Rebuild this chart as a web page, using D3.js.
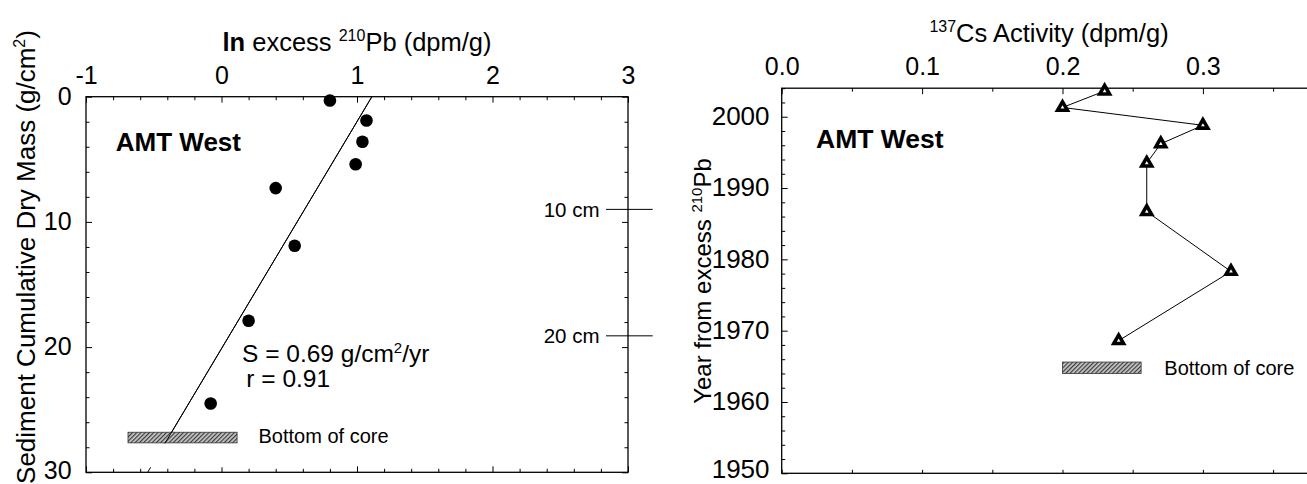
<!DOCTYPE html>
<html><head><meta charset="utf-8">
<script src="https://cdn.jsdelivr.net/npm/d3@7"></script>
<style>
body{margin:0;background:#fff}
svg{display:block}
</style>
</head><body>
<svg id="c" width="1307" height="484"></svg>
<script>
// ---------- Left panel data (ln excess 210Pb vs cumulative dry mass) ----------
const pbMass      = [0.3, 1.9, 3.6, 5.4, 7.3, 11.9, 17.9, 24.5];
const pbLnExcess  = [0.80, 1.07, 1.04, 0.99, 0.40, 0.54, 0.20, -0.08];
const fitMass     = [0, 30];
const fitLnExcess = [1.11, -0.545];
const pbTicks     = [-1, 0, 1, 2, 3];
const massTicks   = [0, 10, 20, 30];
const depthLabels = ["10 cm", "20 cm"];
const depthMass   = [9.0, 19.1];
const pbCoreX     = [-0.69, 0.115];
const pbCoreMass  = [26.8, 27.65];

// ---------- Right panel data (137Cs activity vs year) ----------
const csYear      = [2003.6, 2001.3, 1998.8, 1996.2, 1993.5, 1986.7, 1978.3, 1968.6];
const csActivity  = [0.23, 0.20, 0.30, 0.27, 0.26, 0.26, 0.32, 0.24];
const csTicks     = [0.0, 0.1, 0.2, 0.3];
const yearTicks   = [1950, 1960, 1970, 1980, 1990, 2000];
const csCoreX     = [0.2, 0.256];
const csCoreYear  = [1964.0, 1965.6];

const FONT = '"Liberation Sans", Arial, Helvetica, sans-serif';
const svg = d3.select("#c");

const defs = svg.append("defs");
const pat = defs.append("pattern").attr("id","hatch").attr("patternUnits","userSpaceOnUse")
  .attr("width",3).attr("height",3).attr("patternTransform","rotate(45)");
pat.append("rect").attr("width",3).attr("height",3).attr("fill","#c8c8c8");
pat.append("line").attr("x1",0.6).attr("y1",0).attr("x2",0.6).attr("y2",3).attr("stroke","#3a3a3a").attr("stroke-width",1.2);

// scales
const xL = d3.scaleLinear().domain([-1, 3]).range([86, 628]);
const yL = d3.scaleLinear().domain([0, 30]).range([96.7, 472.3]);
const xR = d3.scaleLinear().domain([0, 0.4]).range([781.7, 1343.3]);
const yR = d3.scaleLinear().domain([1950, 2004]).range([473.3, 88.2]);

function isMajor(v, step){ const q = v/step; return Math.abs(q - Math.round(q)) < 1e-6; }
function styleAxis(g, fs){
  g.attr("font-family", null).attr("font-size", null);
  g.select(".domain").remove();
  g.selectAll("line").attr("stroke","#000").attr("stroke-width",1);
  g.selectAll("text").attr("font-family",FONT).attr("font-size",fs).attr("fill","#000");
}
function addAxis(axis, tx, ty, fs){
  const g = svg.append("g").attr("transform",`translate(${tx},${ty})`).call(axis);
  styleAxis(g, fs || 25);
  return g;
}

// ================= LEFT PANEL =================
const [lx0, lx1] = xL.range(), [ly0, ly1] = yL.range();
const pbMinor = d3.range(-1, 3.0001, 0.2).filter(v => !isMajor(v, 1));
const massMinor = d3.range(0, 30.001, 2).filter(v => !isMajor(v, 10));

addAxis(d3.axisTop(xL).tickValues(pbTicks).tickSize(-6).tickPadding(12.4).tickFormat(d => String(d)), 0, ly0);
addAxis(d3.axisTop(xL).tickValues(pbMinor).tickSize(-3.5).tickFormat(""), 0, ly0);
addAxis(d3.axisBottom(xL).tickValues(pbTicks).tickSize(-6).tickFormat(""), 0, ly1);
addAxis(d3.axisBottom(xL).tickValues(pbMinor).tickSize(-3.5).tickFormat(""), 0, ly1);
const yLabAxis = addAxis(d3.axisLeft(yL).tickValues(massTicks).tickSize(-6).tickPadding(14.4).tickFormat(d => String(d)), lx0, 0);
yLabAxis.selectAll("text").attr("dy", d => d === 30 ? "0.26em" : "0.3em");
addAxis(d3.axisLeft(yL).tickValues(massMinor).tickSize(-3.5).tickFormat(""), lx0, 0);
addAxis(d3.axisRight(yL).tickValues(massTicks).tickSize(-6).tickFormat(""), lx1, 0);
addAxis(d3.axisRight(yL).tickValues(massMinor).tickSize(-3.5).tickFormat(""), lx1, 0);

svg.append("rect").attr("x",lx0).attr("y",ly0).attr("width",lx1-lx0).attr("height",ly1-ly0)
  .attr("fill","none").attr("stroke","#000").attr("stroke-width",1.3);

// regression line
const fitData = fitMass.map((m,i)=>({m, v: fitLnExcess[i]}));
const fitLine = d3.line().x(d=>xL(d.v)).y(d=>yL(d.m));
svg.append("path").datum(fitData).attr("d", fitLine)
  .attr("fill","none").attr("stroke","#000").attr("stroke-width",1);

// legend background (white) hiding the fit line below the bar
svg.append("rect").attr("x", xL(pbCoreX[0])-4).attr("y", yL(pbCoreMass[1])+0.6)
  .attr("width", xL(pbCoreX[1]) - xL(pbCoreX[0]) + 8).attr("height", yL(29.6) - yL(pbCoreMass[1]) - 0.6)
  .attr("fill","#fff");

// core bottom bar
svg.append("rect").attr("x", xL(pbCoreX[0])).attr("y", yL(pbCoreMass[0]))
  .attr("width", xL(pbCoreX[1]) - xL(pbCoreX[0])).attr("height", yL(pbCoreMass[1]) - yL(pbCoreMass[0]))
  .attr("fill","url(#hatch)").attr("stroke","#333").attr("stroke-width",0.8);
// fit line drawn over the bar
const fitAtBar = fitLnExcess[0] + (fitLnExcess[1]-fitLnExcess[0]) * (pbCoreMass[1]-fitMass[0]) / (fitMass[1]-fitMass[0]);
svg.append("path").datum([fitData[0], {m: pbCoreMass[1], v: fitAtBar}]).attr("d", fitLine)
  .attr("fill","none").attr("stroke","#000").attr("stroke-width",1);

svg.append("text").attr("x",258.5).attr("y",443).attr("font-family",FONT).attr("font-size",20).text("Bottom of core");

// dots
svg.append("g").selectAll("circle").data(pbMass.map((m,i)=>({m, v: pbLnExcess[i]})))
  .join("circle").attr("cx",d=>xL(d.v)).attr("cy",d=>yL(d.m)).attr("r",6.3).attr("fill","#000");

// depth markers
depthMass.forEach((m,i)=>{
  svg.append("line").attr("x1",606).attr("x2",652.7).attr("y1",yL(m)).attr("y2",yL(m)).attr("stroke","#000").attr("stroke-width",1);
  svg.append("text").attr("x",599.5).attr("y",yL(m)).attr("dy","0.36em").attr("text-anchor","end")
    .attr("font-family",FONT).attr("font-size",20.5).text(depthLabels[i]);
});

// texts
svg.append("text").attr("x",115.8).attr("y",150.7).attr("font-family",FONT).attr("font-size",26).attr("font-weight","bold").text("AMT West");
const sText = svg.append("text").attr("x",242).attr("y",361.7).attr("font-family",FONT).attr("font-size",24.5);
sText.append("tspan").text("S = 0.69 g/cm");
sText.append("tspan").attr("font-size",15).attr("dy",-9).text("2");
sText.append("tspan").attr("dy",9).text("/yr");
svg.append("text").attr("x",246.3).attr("y",386.7).attr("font-family",FONT).attr("font-size",24.5).text("r = 0.91");

const tL = svg.append("text").attr("x",(lx0+lx1)/2).attr("y",51).attr("text-anchor","middle").attr("font-family",FONT).attr("font-size",25.5);
tL.append("tspan").attr("font-weight","bold").text("ln");
tL.append("tspan").text(" excess ");
tL.append("tspan").attr("font-size",16).attr("dy",-9.8).text("210");
tL.append("tspan").attr("dy",9.8).text("Pb (dpm/g)");

const yTL = svg.append("text").attr("transform","translate(35,257) rotate(-90)").attr("text-anchor","middle").attr("font-family",FONT).attr("font-size",26);
yTL.append("tspan").text("Sediment Cumulative Dry Mass (g/cm");
yTL.append("tspan").attr("font-size",16).attr("dy",-10).text("2");
yTL.append("tspan").attr("dy",10).text(")");

// ================= RIGHT PANEL =================
const [rx0, rx1] = xR.range(), [ry1, ry0] = yR.range();
const csAll = d3.range(0, 0.4001, 0.05);
const csMinor = csAll.filter(v => !isMajor(v, 0.1));
const yearMinor = d3.range(1950, 2004.001, 2).filter(v => !isMajor(v, 10));

addAxis(d3.axisTop(xR).tickValues(csTicks.concat([0.4])).tickSize(-6).tickPadding(13.3).tickFormat(d => d < 0.35 ? d3.format(".1f")(d) : ""), 0, ry0);
addAxis(d3.axisTop(xR).tickValues(csMinor).tickSize(-3.5).tickFormat(""), 0, ry0);
addAxis(d3.axisBottom(xR).tickValues(csAll).tickSize(-3.5).tickFormat(""), 0, ry1);
const yRLab = addAxis(d3.axisLeft(yR).tickValues(yearTicks).tickSize(-6).tickPadding(12.2).tickFormat(d => String(d)), rx0, 0, 26);
yRLab.selectAll("text").attr("dy", d => d === 1950 ? "0.18em" : "0.3em");
addAxis(d3.axisLeft(yR).tickValues(yearMinor).tickSize(-3.5).tickFormat(""), rx0, 0);

svg.append("rect").attr("x",rx0).attr("y",ry0).attr("width",rx1-rx0).attr("height",ry1-ry0)
  .attr("fill","none").attr("stroke","#000").attr("stroke-width",1.3);

const csData = csYear.map((y,i)=>({y, v: csActivity[i]}));
svg.append("path").datum(csData)
  .attr("d", d3.line().x(d=>xR(d.v)).y(d=>yR(d.y)))
  .attr("fill","none").attr("stroke","#000").attr("stroke-width",1);
const tri = svg.append("g").selectAll("g").data(csData).join("g")
  .attr("transform", d=>`translate(${xR(d.v)},${yR(d.y)})`);
tri.append("path").attr("d", d3.symbol(d3.symbolTriangle, 110)).attr("fill","#000");
tri.append("path").attr("d", d3.symbol(d3.symbolTriangle, 6)).attr("fill","#fff");

svg.append("rect").attr("x", xR(csCoreX[0])).attr("y", yR(csCoreYear[1]))
  .attr("width", xR(csCoreX[1]) - xR(csCoreX[0])).attr("height", yR(csCoreYear[0]) - yR(csCoreYear[1]))
  .attr("fill","url(#hatch)").attr("stroke","#333").attr("stroke-width",0.8);
svg.append("text").attr("x",1164.3).attr("y",375).attr("font-family",FONT).attr("font-size",20).text("Bottom of core");

svg.append("text").attr("x",816).attr("y",147.7).attr("font-family",FONT).attr("font-size",26.5).attr("font-weight","bold").text("AMT West");

const tR = svg.append("text").attr("x",1049).attr("y",41.7).attr("text-anchor","middle").attr("font-family",FONT).attr("font-size",25.5);
tR.append("tspan").attr("font-size",16).attr("dy",-9.8).text("137");
tR.append("tspan").attr("dy",9.8).text("Cs Activity (dpm/g)");

const yTR = svg.append("text").attr("transform","translate(711,281) rotate(-90)").attr("text-anchor","middle").attr("font-family",FONT).attr("font-size",24);
yTR.append("tspan").text("Year from excess ");
yTR.append("tspan").attr("font-size",15).attr("dy",-9.3).text("210");
yTR.append("tspan").attr("dy",9.3).text("Pb");
</script>
</body></html>
